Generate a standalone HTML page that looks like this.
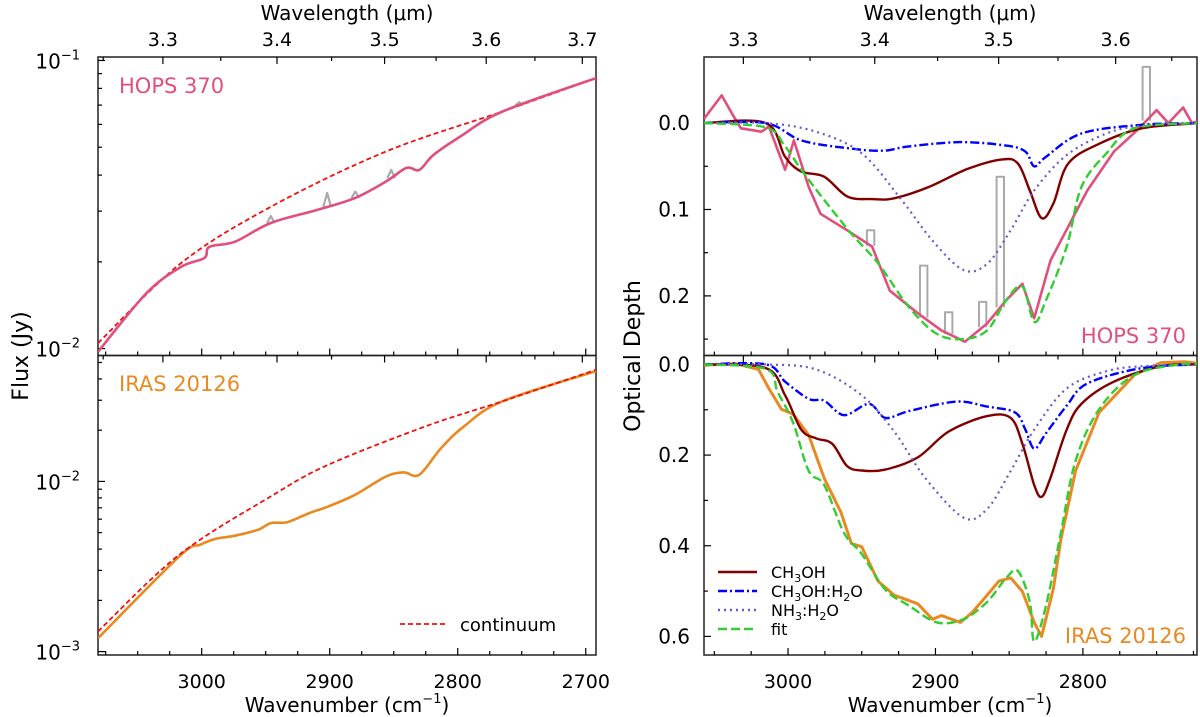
<!DOCTYPE html>
<html><head><meta charset="utf-8">
<style>
html,body{margin:0;padding:0;background:#fff;}
svg{display:block;font-family:"DejaVu Sans","Liberation Sans",sans-serif;}
</style></head>
<body>
<svg id="fig" width="1200" height="717" viewBox="0 0 1200 717" xmlns="http://www.w3.org/2000/svg"></svg>
<script>
// ---------- DATA ----------
const hopsContNu = [3081,3016,2946,2856,2765,2690];
const hopsContLog = [-1.981,-1.703,-1.508,-1.316,-1.177,-1.058];
const hopsFluxNu = [3081,3043,3016,2998,2994,2974,2946,2910,2880,2856,2840,2830,2819,2798,2765,2690];
const hopsFluxLog = [-2.011,-1.807,-1.716,-1.686,-1.647,-1.629,-1.564,-1.519,-1.477,-1.42,-1.373,-1.38,-1.328,-1.264,-1.177,-1.058];
const hopsSpikeNu = [2946,2902,2880,2852,2752];
const hopsSpikeLog = [-1.54,-1.46,-1.455,-1.38,-1.145];
const irasContNu = [3081,3017.6,2946,2901,2825,2765,2690];
const irasContLog = [-2.882,-2.431,-2.088,-1.902,-1.676,-1.529,-1.339];
const irasFluxNu = [3081,3017,3001,2989,2974,2956,2946,2933,2916,2901,2880,2856,2842,2830,2813,2795,2765,2690];
const irasFluxLog = [-2.921,-2.437,-2.372,-2.337,-2.319,-2.284,-2.245,-2.239,-2.186,-2.147,-2.078,-1.971,-1.947,-1.961,-1.804,-1.676,-1.529,-1.347];
const hopsObsNu = [3057,3045,3038,3032,3018,3013,3002,2996,2986,2978,2960,2943,2931,2912,2896,2880,2865,2852,2841,2833,2822,2810,2797,2779,2763,2750,2742,2732,2726,2717];
const hopsObsTau = [-0.005,-0.032,-0.011,0.006,0.01,0.004,0.054,0.02,0.074,0.105,0.124,0.143,0.194,0.22,0.24,0.253,0.232,0.205,0.186,0.226,0.159,0.12,0.078,0.033,0.008,-0.015,0.0,-0.018,0.0,-0.005];
const hopsGrayNu = [2944,2908,2891,2868,2856,2757];
const hopsGrayTau = [0.124,0.165,0.219,0.207,0.062,-0.065];
const hopsMethNu = [3057,3015,3002,2991,2975.5,2959.7,2943,2928,2904.5,2878.2,2854.5,2844,2836,2828,2820,2810,2789,2760,2722];
const hopsMethTau = [0,0,0.039,0.056,0.062,0.085,0.088,0.087,0.074,0.053,0.042,0.047,0.078,0.11,0.093,0.047,0.024,0.006,0];
const hopsMwNu = [3057,3015,2991,2960,2936,2918,2883,2852,2839,2833,2825,2801,2760,2722];
const hopsMwTau = [0,0,0.02,0.029,0.032,0.027,0.022,0.026,0.033,0.05,0.039,0.012,0.002,0];
const hopsAmNu = [3057,3015,2981,2950,2923,2902,2881,2865,2849,2833,2811,2784,2760,2722];
const hopsAmTau = [0,0,0.01,0.035,0.089,0.136,0.17,0.163,0.124,0.078,0.037,0.012,0.003,0];
const hopsFitNu = [3057,3015,3002,2991,2975.5,2957,2938.6,2918,2899,2881,2865,2852,2841,2833,2825,2811,2801,2784,2765,2722];
const hopsFitTau = [0,0.005,0.027,0.054,0.089,0.128,0.163,0.213,0.244,0.25,0.24,0.205,0.189,0.23,0.205,0.143,0.074,0.035,0.006,0];
const irasObsNu = [3057,3036,3020,3013,3004.4,2996.5,2986,2975.5,2964,2957,2950,2939,2928,2912,2902,2896,2883,2875,2865,2857,2849,2841,2833,2828,2820,2815,2805,2789,2765,2747,2731,2717];
const irasObsTau = [0.002,-0.002,0.011,0.053,0.099,0.11,0.156,0.251,0.327,0.395,0.402,0.478,0.509,0.528,0.562,0.554,0.569,0.547,0.509,0.478,0.471,0.501,0.569,0.6,0.494,0.387,0.235,0.106,0.023,-0.004,-0.006,0];
const irasMethNu = [3057,3015,3002,2991,2981,2970,2960,2950,2934,2912,2891,2865,2849,2841,2833,2828,2822,2811,2801,2779,2747,2722];
const irasMethTau = [0,0.008,0.068,0.144,0.163,0.175,0.224,0.234,0.232,0.205,0.148,0.114,0.118,0.175,0.266,0.292,0.25,0.144,0.087,0.038,0.004,0];
const irasMwNu = [3057,3015,3002,2986,2975.5,2962,2945,2934,2918,2886,2865,2846,2839,2833,2825,2811,2797,2760,2722];
const irasMwTau = [0,0,0.038,0.076,0.08,0.112,0.087,0.118,0.103,0.082,0.093,0.106,0.144,0.186,0.152,0.091,0.042,0.008,0];
const irasAmNu = [3057,3015,2981,2950,2928,2907,2881,2865,2849,2833,2811,2784,2760,2722];
const irasAmTau = [0,0,0.011,0.068,0.148,0.25,0.338,0.319,0.235,0.144,0.053,0.015,0.004,0];
const irasFitNu = [3057,3015,3007,2996.5,2986,2975.5,2962,2950,2934,2918,2899,2881,2865,2852,2844,2836,2833,2825,2815,2805,2789,2765,2734,2722];
const irasFitTau = [0,0.01,0.061,0.129,0.235,0.266,0.372,0.418,0.497,0.532,0.569,0.562,0.524,0.471,0.456,0.524,0.611,0.532,0.372,0.213,0.099,0.023,0,0];
const bottomTicks = [3000,2900,2800,2700];
const topTicksL = [3.3,3.4,3.5,3.6,3.7];
const topTicksR = [3.3,3.4,3.5,3.6];
const tauTicksTop = [0.0,0.1,0.2];
const tauTicksBot = [0.0,0.2,0.4,0.6];

// ---------- helpers ----------
const NS="http://www.w3.org/2000/svg";
const svg=document.getElementById('fig');
function mk(tag,attrs,parent){const e=document.createElementNS(NS,tag);for(const k in attrs)e.setAttribute(k,attrs[k]);(parent||svg).appendChild(e);return e;}
function linScale(d0,d1,r0,r1){return v=>r0+(v-d0)*(r1-r0)/(d1-d0);}
function poly(xs,ys,sx,sy,style,name,clip,smooth){
  const P=xs.map((v,i)=>[sx(v),sy(ys[i])]);
  let d='M'+P[0][0].toFixed(1)+','+P[0][1].toFixed(1);
  for(let i=0;i<P.length-1;i++){
    if(smooth){const p0=P[Math.max(0,i-1)],p1=P[i],p2=P[i+1],p3=P[Math.min(P.length-1,i+2)];
      const c1=[p1[0]+(p2[0]-p0[0])/6,p1[1]+(p2[1]-p0[1])/6],c2=[p2[0]-(p3[0]-p1[0])/6,p2[1]-(p3[1]-p1[1])/6];
      d+=' C'+c1[0].toFixed(1)+','+c1[1].toFixed(1)+' '+c2[0].toFixed(1)+','+c2[1].toFixed(1)+' '+p2[0].toFixed(1)+','+p2[1].toFixed(1);}
    else d+=' L'+P[i+1][0].toFixed(1)+','+P[i+1][1].toFixed(1);}
  const p=mk('path',Object.assign({d:d,fill:'none','stroke-linejoin':'round'},style));
  if(clip)p.setAttribute('clip-path','url(#'+clip+')');
  
  
  return p;
}
function interp(xs,ys,x){for(let i=0;i<xs.length-1;i++){if((x<=xs[i]&&x>=xs[i+1])){const t=(x-xs[i])/(xs[i+1]-xs[i]);return ys[i]+t*(ys[i+1]-ys[i]);}}return ys[ys.length-1];}
function txt(x,y,s,size,anchor,fill,name){const t=mk('text',{x:x,y:y,'font-size':size,'text-anchor':anchor||'middle',fill:fill||'#000'});t.innerHTML=s;return t;}

const defs=mk('defs',{});
function clipRect(id,x,y,w,h){const c=mk('clipPath',{id:id},defs);mk('rect',{x:x,y:y,width:w,height:h},c);}

const L={x0:98,x1:596}, R={x0:704,x1:1197};
const Y={t:57,m:355.5,b:655};
const sxL=linScale(3081,2692,L.x0,L.x1);
const sxR=linScale(3057,2722.6,R.x0,R.x1);
const syLT=linScale(-0.988,-2.024,Y.t,Y.m);
const syLB=linScale(-1.26,-3.02,Y.m,Y.b);
const syRT=linScale(-0.0765,0.269,Y.t,Y.m);
const syRB=linScale(-0.0197,0.641,Y.m,Y.b);
clipRect('cLT',L.x0,Y.t,L.x1-L.x0,Y.m-Y.t);
clipRect('cLB',L.x0,Y.m,L.x1-L.x0,Y.b-Y.m);
clipRect('cRT',R.x0,Y.t,R.x1-R.x0,Y.m-Y.t);
clipRect('cRB',R.x0,Y.m,R.x1-R.x0,Y.b-Y.m);

const TK={stroke:'#000','stroke-width':1.2};
function vtick(x,y,len){mk('line',Object.assign({x1:x,y1:y,x2:x,y2:y+len},TK));}
function htick(x,y,len){mk('line',Object.assign({x1:x,y1:y,x2:x+len,y2:y},TK));}

function xAxes(P,sx){
  for(let nu=3100;nu>=2675;nu-=25){const x=sx(nu);if(x<P.x0||x>P.x1)continue;const maj=nu%100===0;const l=maj?7:4;
    vtick(x,Y.b,-l);vtick(x,Y.m,-l);}
  for(let k=64;k<=76;k++){const w=k*0.05;const nu=1e4/w;const x=sx(nu);if(x<P.x0||x>P.x1)continue;const maj=k%2===0;
    vtick(x,Y.t,maj?7:4);vtick(x,Y.m,maj?7:4);}
}
[[L,Y.t,Y.m],[L,Y.m,Y.b],[R,Y.t,Y.m],[R,Y.m,Y.b]].forEach(([P,a,b])=>mk('rect',{x:P.x0,y:a,width:P.x1-P.x0,height:b-a,fill:'none',stroke:'#222','stroke-width':1.5}));
xAxes(L,sxL);xAxes(R,sxR);
for(let d=-3;d<0;d++)for(let m=1;m<10;m++){const v=d+Math.log10(m);let y=syLT(v);if(y>=Y.t-0.5&&y<=Y.m+0.5)htick(L.x0,y,m===1?7:4);y=syLB(v);if(y>=Y.m-0.5&&y<=Y.b+0.5)htick(L.x0,y,m===1?7:4);}
for(let v=0;v<=0.26;v+=0.05){const y=syRT(v);htick(R.x0,y,Math.abs(v*10-Math.round(v*10))<1e-6?7:4);}
for(let v=0;v<=0.65;v+=0.1){const y=syRB(v);htick(R.x0,y,Math.abs(v*5-Math.round(v*5))<1e-6?7:4);}

hopsSpikeNu.forEach((n,i)=>{const b=interp(hopsFluxNu,hopsFluxLog,n);
  poly([n+3,n,n-3],[b,hopsSpikeLog[i],b],sxL,syLT,{stroke:'#aaa','stroke-width':2.2},'gray-spike-left','cLT',false);});
poly(hopsContNu,hopsContLog,sxL,syLT,{stroke:'#f01010','stroke-width':1.8,'stroke-dasharray':'5,3'},'hops-continuum','cLT',true);
poly(hopsFluxNu,hopsFluxLog,sxL,syLT,{stroke:'#e0507c','stroke-width':2.6},'hops-flux','cLT',true);
poly(irasFluxNu,irasFluxLog,sxL,syLB,{stroke:'#e88a22','stroke-width':2.6},'iras-flux','cLB',true);
poly(irasContNu,irasContLog,sxL,syLB,{stroke:'#f01010','stroke-width':1.8,'stroke-dasharray':'5,3'},'iras-continuum','cLB',true);

hopsGrayNu.forEach((n,i)=>{const b=interp(hopsObsNu,hopsObsTau,n);
  poly([n+2.5,n+2.5,n-2.5,n-2.5],[b,hopsGrayTau[i],hopsGrayTau[i],b],sxR,syRT,{stroke:'#aaa','stroke-width':2},'gray-spike-right','cRT',false);});
poly(hopsObsNu,hopsObsTau,sxR,syRT,{stroke:'#e0507c','stroke-width':2.6},'hops-tau-observed','cRT',false);
poly(hopsMethNu,hopsMethTau,sxR,syRT,{stroke:'#800000','stroke-width':2.4},'hops-ch3oh','cRT',true);
poly(hopsMwNu,hopsMwTau,sxR,syRT,{stroke:'#0000ff','stroke-width':2.4,'stroke-dasharray':'9,3,2,3'},'hops-ch3oh-h2o','cRT',true);
poly(hopsAmNu,hopsAmTau,sxR,syRT,{stroke:'#6a5acd','stroke-width':2.2,'stroke-dasharray':'2,4'},'hops-nh3-h2o','cRT',true);
poly(hopsFitNu,hopsFitTau,sxR,syRT,{stroke:'#32cd32','stroke-width':2.4,'stroke-dasharray':'9,4'},'hops-fit','cRT',true);
poly(irasObsNu,irasObsTau,sxR,syRB,{stroke:'#e88a22','stroke-width':3},'iras-tau-observed','cRB',false);
poly(irasMethNu,irasMethTau,sxR,syRB,{stroke:'#800000','stroke-width':2.4},'iras-ch3oh','cRB',true);
poly(irasMwNu,irasMwTau,sxR,syRB,{stroke:'#0000ff','stroke-width':2.4,'stroke-dasharray':'9,3,2,3'},'iras-ch3oh-h2o','cRB',true);
poly(irasAmNu,irasAmTau,sxR,syRB,{stroke:'#6a5acd','stroke-width':2.2,'stroke-dasharray':'2,4'},'iras-nh3-h2o','cRB',true);
poly(irasFitNu,irasFitTau,sxR,syRB,{stroke:'#32cd32','stroke-width':2.4,'stroke-dasharray':'9,4'},'iras-fit','cRB',true);

bottomTicks.forEach(v=>{let x=sxL(v);if(x<=L.x1+20)txt(x,688,v,19,'middle','#000','x-tick-label-left');x=sxR(v);if(x<=R.x1)txt(x,688,v,19,'middle','#000','x-tick-label-right');});
topTicksL.forEach(v=>txt(sxL(1e4/v),46,v.toFixed(1),19,'middle','#000','top-tick-label-left'));
topTicksR.forEach(v=>txt(sxR(1e4/v),46,v.toFixed(1),19,'middle','#000','top-tick-label-right'));
[[-1,syLT],[-2,syLT],[-2,syLB],[-3,syLB]].forEach(([d,sy])=>{const y=sy(d);txt(80,y+8,'10<tspan dy="-9" font-size="13">−'+(-d)+'</tspan>',20,'end','#000','y-tick-label-log');});
tauTicksTop.forEach(v=>txt(690,syRT(v)+7,v.toFixed(1),20,'end','#000','y-tick-label-tau'));
tauTicksBot.forEach(v=>txt(690,syRB(v)+7,v.toFixed(1),20,'end','#000','y-tick-label-tau'));

txt(347,20,'Wavelength (μm)',20,'middle','#000','top-axis-title-left');
txt(950,20,'Wavelength (μm)',20,'middle','#000','top-axis-title-right');
txt(347,712,'Wavenumber (cm<tspan dy="-9" font-size="13">−1</tspan><tspan dy="9">)</tspan>',20,'middle','#000','x-axis-title-left');
txt(950,712,'Wavenumber (cm<tspan dy="-9" font-size="13">−1</tspan><tspan dy="9">)</tspan>',20,'middle','#000','x-axis-title-right');
let t=txt(0,0,'Flux (Jy)',22,'middle','#000','y-axis-title-left');t.setAttribute('transform','translate(28,356) rotate(-90)');
t=txt(0,0,'Optical Depth',22,'middle','#000','y-axis-title-right');t.setAttribute('transform','translate(640,356) rotate(-90)');

txt(119,93,'HOPS 370',21,'start','#e0507c','source-label-hops-left');
txt(119,391,'IRAS 20126',21,'start','#e88a22','source-label-iras-left');
txt(1186,343,'HOPS 370',21,'end','#e0507c','source-label-hops-right');
txt(1186,643,'IRAS 20126',21,'end','#e88a22','source-label-iras-right');

const lg=mk('g',{});
mk('line',{x1:400,y1:624,x2:445,y2:624,stroke:'#f01010','stroke-width':1.8,'stroke-dasharray':'5,3'},lg);
txt(460,631,'continuum',18,'start','#000','legend-entry-continuum');
const lr=mk('g',{});
const legStyles=[{stroke:'#800000'},{stroke:'#0000ff','stroke-dasharray':'9,3,2,3'},{stroke:'#6a5acd','stroke-dasharray':'2,4'},{stroke:'#32cd32','stroke-dasharray':'9,4'}];
const legLabels=['CH<tspan dy="4" font-size="11">3</tspan><tspan dy="-4">OH</tspan>','CH<tspan dy="4" font-size="11">3</tspan><tspan dy="-4">OH:H</tspan><tspan dy="4" font-size="11">2</tspan><tspan dy="-4">O</tspan>','NH<tspan dy="4" font-size="11">3</tspan><tspan dy="-4">:H</tspan><tspan dy="4" font-size="11">2</tspan><tspan dy="-4">O</tspan>','fit'];
legStyles.forEach((s,i)=>{const y=572+i*19;mk('line',Object.assign({x1:718,y1:y,x2:757,y2:y,'stroke-width':2.4},s),lr);txt(771,y+6,legLabels[i],16,'start','#000','legend-entry');});
</script>
</body></html>
